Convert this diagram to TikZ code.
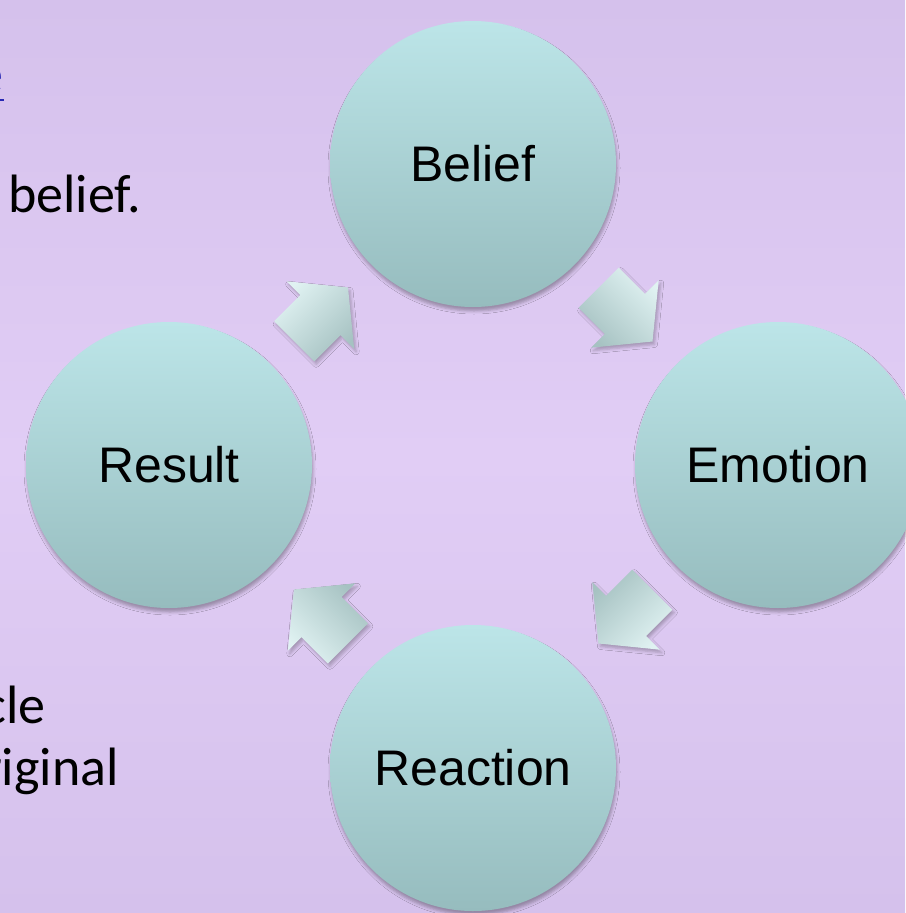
\documentclass[tikz,border=0pt]{standalone}
\usepackage{fontspec}
\setmainfont{Liberation Sans}
\newfontfamily\calib{Carlito}
\usetikzlibrary{shadows.blur,calc}
\definecolor{bgmid}{RGB}{225,205,245}
\definecolor{bgedge}{RGB}{213,193,236}
\definecolor{ctop}{RGB}{188,229,232}
\definecolor{cbot}{RGB}{150,188,190}
\definecolor{alight}{RGB}{224,242,242}
\definecolor{adark}{RGB}{166,194,194}
\definecolor{linkblue}{RGB}{40,40,180}
\begin{document}
\begin{tikzpicture}[x=1pt,y=1pt,
  stage/.style={circle, minimum size=286pt, inner sep=0pt, top color=ctop, bottom color=cbot,
    font=\fontsize{50}{60}\selectfont, text=black,
    blur shadow={shadow xshift=1pt, shadow yshift=-4pt, shadow blur radius=3pt, shadow opacity=30}},
  cycshade/.style={top color=alight, bottom color=adark, shading angle=#1,
    blur shadow={shadow xshift=2pt, shadow yshift=-3pt, shadow blur radius=3pt, shadow opacity=25}},
  side/.style={font=\calib\fontsize{54}{64}\selectfont, inner sep=0pt, text=black}
]
\useasboundingbox (0,0) rectangle (905,-913);
\shade[top color=bgedge, bottom color=bgedge, middle color=bgmid] (0,0) rectangle (905,-913);

\node[side, anchor=base east, text=linkblue] (lnk) at (4,-92) {e};
\draw[linkblue, line width=2.5pt] ($(lnk.base west)+(0,-8)$) -- ($(lnk.base east)+(0,-8)$);
\node[side, anchor=base west] (bel) at (8,-212) {belief.};
\node[side, anchor=base east] (cy) at (46,-723) {cle};
\node[side, anchor=base east] (orig) at (119,-785) {riginal};

\node[stage] (belief) at (473,-164) {Belief};
\node[stage] (emotion) at (778,-465) {Emotion};
\node[stage] (reaction) at (473,-768) {Reaction};
\node[stage] (result) at (169,-465) {Result};

\coordinate (a1) at ($(belief)!0.5!(emotion)$);
\coordinate (a2) at ($(emotion)!0.5!(reaction)$);
\coordinate (a3) at ($(reaction)!0.5!(result)$);
\coordinate (a4) at ($(result)!0.5!(belief)$);

\foreach \pos/\ang in {a1/-45, a2/-135, a3/135, a4/45}{
  \begin{scope}[shift={(\pos)}, rotate=\ang]
    \shade[cycshade=\ang] (-38,-28.3) -- (-0.8,-28.3) -- (-0.8,-47.7) -- (38.2,0)
      -- (-0.8,47.7) -- (-0.8,28.3) -- (-38,28.3) -- cycle;
  \end{scope}
}
\end{tikzpicture}
\end{document}
